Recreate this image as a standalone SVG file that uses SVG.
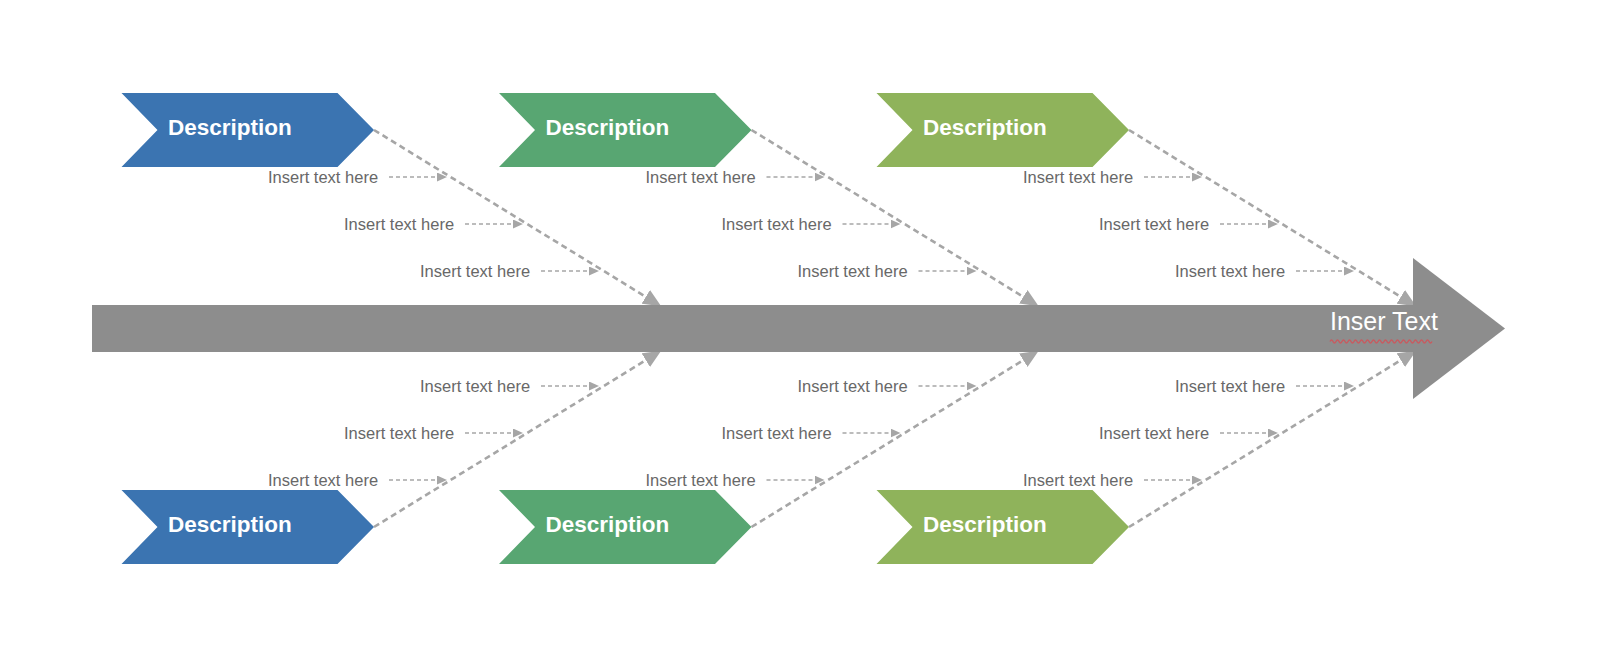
<svg xmlns="http://www.w3.org/2000/svg" width="1600" height="657" viewBox="0 0 1600 657">
<defs>
<style>
.lbl{font-family:"Liberation Sans",Arial,sans-serif;font-size:16.5px;fill:#686868}
.desc{font-family:"Liberation Sans",Arial,sans-serif;font-size:22.5px;font-weight:bold;fill:#ffffff}
.bone{fill:none;stroke:#a6a6a6;stroke-width:2.6;stroke-dasharray:6 4;marker-end:url(#bigArrow)}
.sub{fill:none;stroke:#a6a6a6;stroke-width:1.6;stroke-dasharray:4 3;marker-end:url(#smallArrow)}
.blue{fill:#3b74b1}
.green{fill:#58a672}
.lime{fill:#8fb35b}
</style>
<marker id="bigArrow" markerUnits="userSpaceOnUse" viewBox="0 -8 18 16" refX="0" refY="0" markerWidth="18" markerHeight="16" orient="auto">
<path d="M0,-8 L18,0 L0,8 Z" fill="#a6a6a6"/>
</marker>
<marker id="smallArrow" markerUnits="userSpaceOnUse" viewBox="0 -4.5 10 9" refX="0" refY="0" markerWidth="10" markerHeight="9" orient="auto">
<path d="M0,-4.5 L10,0 L0,4.5 Z" fill="#a6a6a6"/>
</marker>
<polygon id="chev" points="0,0 216,0 252.5,37 216,74 0,74 36,37"/>
</defs>
<rect width="1600" height="657" fill="#ffffff"/>

<g id="connectors">
<path class="bone" d="M374,130 L645.8,296.8"/>
<path class="bone" d="M751.5,130 L1023.3,296.8"/>
<path class="bone" d="M1129,130 L1400.8,296.8"/>
<path class="bone" d="M374,527 L645.8,360.2"/>
<path class="bone" d="M751.5,527 L1023.3,360.2"/>
<path class="bone" d="M1129,527 L1400.8,360.2"/>

<path class="sub" d="M389,177 L437,177"/>
<path class="sub" d="M465,224 L513,224"/>
<path class="sub" d="M541,271 L589,271"/>
<path class="sub" d="M766.5,177 L814.5,177"/>
<path class="sub" d="M842.5,224 L890.5,224"/>
<path class="sub" d="M918.5,271 L966.5,271"/>
<path class="sub" d="M1144,177 L1192,177"/>
<path class="sub" d="M1220,224 L1268,224"/>
<path class="sub" d="M1296,271 L1344,271"/>

<path class="sub" d="M541,386 L589,386"/>
<path class="sub" d="M465,433 L513,433"/>
<path class="sub" d="M389,480 L437,480"/>
<path class="sub" d="M918.5,386 L966.5,386"/>
<path class="sub" d="M842.5,433 L890.5,433"/>
<path class="sub" d="M766.5,480 L814.5,480"/>
<path class="sub" d="M1296,386 L1344,386"/>
<path class="sub" d="M1220,433 L1268,433"/>
<path class="sub" d="M1144,480 L1192,480"/>
</g>

<g id="labels">
<text class="lbl" x="268" y="182.5">Insert text here</text>
<text class="lbl" x="344" y="229.5">Insert text here</text>
<text class="lbl" x="420" y="276.5">Insert text here</text>
<text class="lbl" x="645.5" y="182.5">Insert text here</text>
<text class="lbl" x="721.5" y="229.5">Insert text here</text>
<text class="lbl" x="797.5" y="276.5">Insert text here</text>
<text class="lbl" x="1023" y="182.5">Insert text here</text>
<text class="lbl" x="1099" y="229.5">Insert text here</text>
<text class="lbl" x="1175" y="276.5">Insert text here</text>

<text class="lbl" x="420" y="391.5">Insert text here</text>
<text class="lbl" x="344" y="438.5">Insert text here</text>
<text class="lbl" x="268" y="485.5">Insert text here</text>
<text class="lbl" x="797.5" y="391.5">Insert text here</text>
<text class="lbl" x="721.5" y="438.5">Insert text here</text>
<text class="lbl" x="645.5" y="485.5">Insert text here</text>
<text class="lbl" x="1175" y="391.5">Insert text here</text>
<text class="lbl" x="1099" y="438.5">Insert text here</text>
<text class="lbl" x="1023" y="485.5">Insert text here</text>
</g>

<g id="spine">
<rect x="92" y="305" width="1322" height="47" fill="#8d8d8d"/>
<polygon points="1413,258 1505,328.5 1413,399" fill="#8d8d8d"/>
<text x="1330" y="330" font-family="'Liberation Sans',Arial,sans-serif" font-size="25" fill="#ffffff">Inser Text</text>
<path d="M1330,341.5 q1.5,-3 3,0 t3,0 t3,0 t3,0 t3,0 t3,0 t3,0 t3,0 t3,0 t3,0 t3,0 t3,0 t3,0 t3,0 t3,0 t3,0 t3,0 t3,0 t3,0 t3,0 t3,0 t3,0 t3,0 t3,0 t3,0 t3,0 t3,0 t3,0 t3,0 t3,0 t3,0 t3,0 t3,0 t3,0" fill="none" stroke="#c85b60" stroke-width="1.4"/>
</g>

<g id="desc-top-1" transform="translate(121.5,93)">
<use href="#chev" class="blue"/>
<text class="desc" x="46.5" y="42">Description</text>
</g>
<g id="desc-top-2" transform="translate(499,93)">
<use href="#chev" class="green"/>
<text class="desc" x="46.5" y="42">Description</text>
</g>
<g id="desc-top-3" transform="translate(876.5,93)">
<use href="#chev" class="lime"/>
<text class="desc" x="46.5" y="42">Description</text>
</g>
<g id="desc-bottom-1" transform="translate(121.5,490)">
<use href="#chev" class="blue"/>
<text class="desc" x="46.5" y="42">Description</text>
</g>
<g id="desc-bottom-2" transform="translate(499,490)">
<use href="#chev" class="green"/>
<text class="desc" x="46.5" y="42">Description</text>
</g>
<g id="desc-bottom-3" transform="translate(876.5,490)">
<use href="#chev" class="lime"/>
<text class="desc" x="46.5" y="42">Description</text>
</g>
</svg>
